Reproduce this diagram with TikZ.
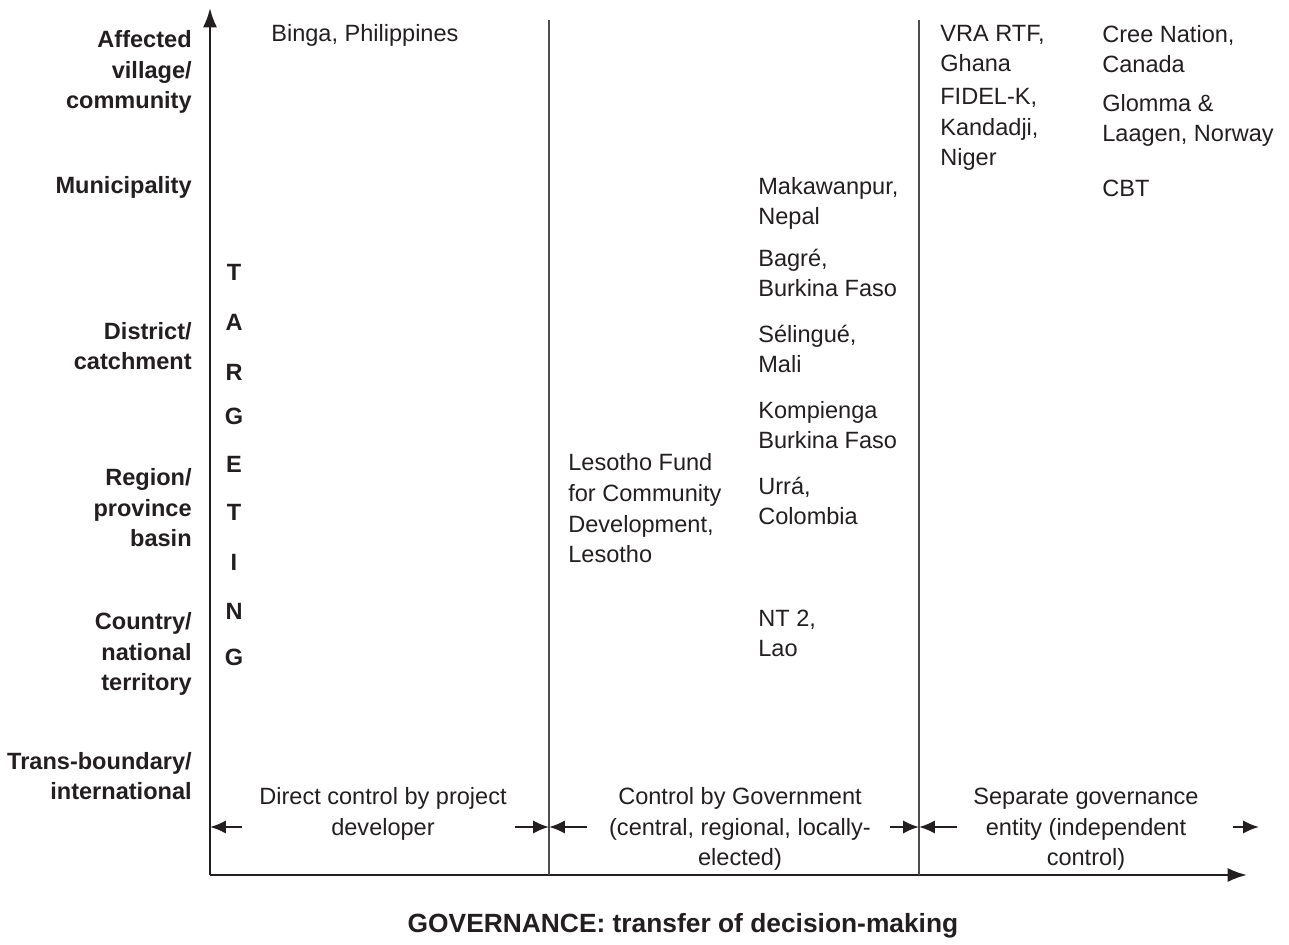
\documentclass[tikz,border=0pt]{standalone}
\usepackage{fontspec}
\setmainfont{Liberation Sans}
\usetikzlibrary{arrows.meta}
\definecolor{inkgray}{HTML}{231F20}
\definecolor{rulegray}{HTML}{4D4D4D}

\begin{document}
\begin{tikzpicture}[x=0.02cm,y=-0.02cm,
  every node/.style={inner sep=0pt,text=inkgray},
  % multi-line nodes sit on the baseline of their last line
  txt/.style={font=\fontsize{13.4}{17.6}\selectfont,align=left,anchor=base west},
  lvl/.style={font=\fontsize{13.4}{17.6}\selectfont\bfseries,align=right,anchor=base east},
  ctl/.style={font=\fontsize{13.4}{17.6}\selectfont,align=center,anchor=base},
  letter/.style={font=\fontsize{13.4}{17.6}\selectfont\bfseries,anchor=base},
  axisline/.style={line width=1.3pt,draw=inkgray,-{Latex[length=11pt,width=8pt]}},
  limarrow/.style={line width=1.1pt,draw=inkgray,-{Latex[length=9pt,width=7.5pt]}}]
  % canvas in pixel units, y downwards
  \useasboundingbox (0,0) rectangle (1289,945);

  % Axes
  \coordinate (O) at (210,875);
  \coordinate (ytop) at (210,8);
  \coordinate (xend) at (1247,875);
  \draw[axisline] (O) -- (ytop);
  \draw[axisline] (O) -- (xend);

  % Column dividers
  \foreach \xd [count=\i] in {549,919} {
    \coordinate (d\i top) at (\xd,20);
    \coordinate (d\i bot) at (\xd,875);
    \draw[rulegray,line width=0.6pt] (d\i top) -- (d\i bot);
  }

  % Range arrows of the governance columns
  \foreach \xa/\xb [count=\i] in {242/210, 515/549, 587/549, 890/919, 957/919, 1233/1259} {
    \coordinate (r\i a) at (\xa,827);
    \coordinate (r\i b) at (\xb,827);
    \draw[limarrow] (r\i a) -- (r\i b);
  }

  % Targeting levels
  \node[lvl] (lv1) at (192,109) {Affected\\village/\\community};
  \node[lvl] (lv2) at (192,194) {Municipality};
  \node[lvl] (lv3) at (192,370) {District/\\catchment};
  \node[lvl] (lv4) at (192,547) {Region/\\province\\basin};
  \node[lvl] (lv5) at (192,691) {Country/\\national\\territory};
  \node[lvl] (lv6) at (192,800) {Trans-boundary/\\international};

  % Vertical word
  \foreach \c/\yy [count=\i] in {T/281, A/331, R/381, G/425, E/473, T/521, I/571, N/620, G/666} {
    \node[letter] (tg\i) at (234,\yy) {\c};
  }

  % Cases, column 1
  \node[txt] (binga) at (271,42) {Binga, Philippines};
  % Cases, column 2
  \node[txt] (lesotho) at (568,563) {Lesotho Fund\\for Community\\Development,\\Lesotho};
  \node[txt] (makaw) at (758,225) {Makawanpur,\\Nepal};
  \node[txt] (bagre) at (758,297) {Bagré,\\Burkina Faso};
  \node[txt] (seling) at (758,373) {Sélingué,\\Mali};
  \node[txt] (kompi) at (758,449) {Kompienga\\Burkina Faso};
  \node[txt] (urra) at (758,525) {Urrá,\\Colombia};
  \node[txt] (nt2) at (758,657) {NT 2,\\Lao};
  % Cases, column 3
  \node[txt] (vra) at (940,72) {VRA RTF,\\Ghana};
  \node[txt] (fidel) at (940,166) {FIDEL-K,\\Kandadji,\\Niger};
  \node[txt] (cree) at (1102,73) {Cree Nation,\\Canada};
  \node[txt] (glomma) at (1102,142) {Glomma \&\\Laagen, Norway};
  \node[txt] (cbt) at (1102,197) {CBT};

  % Governance columns
  \node[ctl] (direct) at (383,835) {Direct control by project\\developer};
  \node[ctl] (govt) at (740,866) {Control by Government\\(central, regional, locally-\\elected)};
  \node[ctl] (sepent) at (1086,866) {Separate governance\\entity (independent\\control)};

  \node[font=\fontsize{15}{18}\selectfont\bfseries,anchor=base] (title) at (683,932)
    {GOVERNANCE: transfer of decision-making};
\end{tikzpicture}
\end{document}
